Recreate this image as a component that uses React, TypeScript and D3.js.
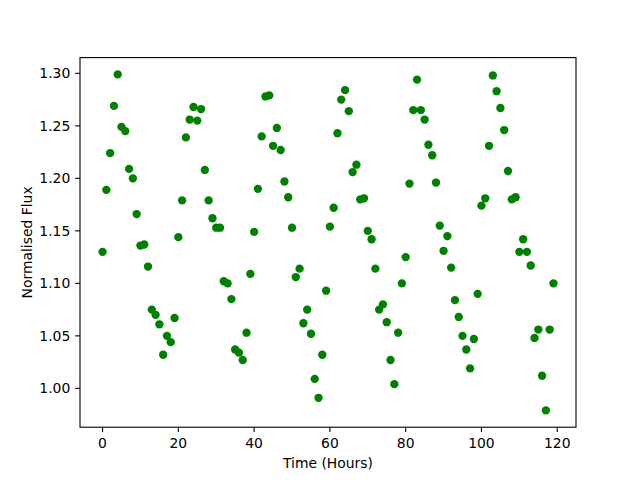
import React from "react";
import * as d3 from "d3";

const hours: number[] = d3.range(0, 120);
const flux: number[] = [
  1.130, 1.189, 1.224, 1.269, 1.299, 1.249, 1.245, 1.209, 1.200, 1.166,
  1.136, 1.137, 1.116, 1.075, 1.070, 1.061, 1.032, 1.050, 1.044, 1.067,
  1.144, 1.179, 1.239, 1.256, 1.268, 1.255, 1.266, 1.208, 1.179, 1.162,
  1.153, 1.153, 1.102, 1.100, 1.085, 1.037, 1.034, 1.027, 1.053, 1.109,
  1.149, 1.190, 1.240, 1.278, 1.279, 1.231, 1.248, 1.227, 1.197, 1.182,
  1.153, 1.106, 1.114, 1.062, 1.075, 1.052, 1.009, 0.991, 1.032, 1.093,
  1.154, 1.172, 1.243, 1.275, 1.284, 1.264, 1.206, 1.213, 1.180, 1.181,
  1.150, 1.142, 1.114, 1.075, 1.080, 1.063, 1.027, 1.004, 1.053, 1.100,
  1.125, 1.195, 1.265, 1.294, 1.265, 1.256, 1.232, 1.222, 1.196, 1.155,
  1.131, 1.145, 1.115, 1.084, 1.068, 1.050, 1.037, 1.019, 1.047, 1.090,
  1.174, 1.181, 1.231, 1.298, 1.283, 1.267, 1.246, 1.207, 1.180, 1.182,
  1.130, 1.142, 1.130, 1.117, 1.048, 1.056, 1.012, 0.979, 1.056, 1.100,
];
const xTicks: number[] = [0, 20, 40, 60, 80, 100, 120];
const yTicks: number[] = [1.0, 1.05, 1.1, 1.15, 1.2, 1.25, 1.3];

const W = 640, H = 480;
const L = 80, R = 576, T = 57.6, B = 427.2;
const FONT = "DejaVu Sans, sans-serif";
const FS = 13.9;
const TL = 4.86;

export default function App() {
  const xMin = d3.min(hours)!, xMax = d3.max(hours)!;
  const yMin = d3.min(flux)!, yMax = d3.max(flux)!;
  const xm = (xMax - xMin) * 0.05, ym = (yMax - yMin) * 0.05;
  const x = d3.scaleLinear().domain([xMin - xm, xMax + xm]).range([L, R]);
  const y = d3.scaleLinear().domain([yMin - ym, yMax + ym]).range([B, T]);

  return (
    <svg width={W} height={H} style={{ position: "absolute", left: 0, top: 0, background: "#fff" }}>
      <rect x={0} y={0} width={W} height={H} fill="#fff" />
      <g>
        {hours.map((h, i) => (
          <circle key={i} cx={x(h)} cy={y(flux[i])} r={4.17} fill="#008000" />
        ))}
      </g>
      <rect x={L} y={T} width={R - L} height={B - T} fill="none" stroke="#000" strokeWidth={1.11} />
      {xTicks.map((t) => (
        <g key={"x" + t}>
          <line x1={x(t)} x2={x(t)} y1={B} y2={B + TL} stroke="#000" strokeWidth={1.11} />
          <text x={x(t)} y={B + TL + 4.86 + 11} textAnchor="middle" fontFamily={FONT} fontSize={FS} fill="#000">
            {t}
          </text>
        </g>
      ))}
      {yTicks.map((t) => (
        <g key={"y" + t}>
          <line x1={L - TL} x2={L} y1={y(t)} y2={y(t)} stroke="#000" strokeWidth={1.11} />
          <text x={L - TL - 4.86} y={y(t)} dy="0.36em" textAnchor="end" fontFamily={FONT} fontSize={FS} fill="#000">
            {t.toFixed(2)}
          </text>
        </g>
      ))}
      <text x={(L + R) / 2} y={468} textAnchor="middle" fontFamily={FONT} fontSize={FS} fill="#000">
        Time (Hours)
      </text>
      <text
        transform={`translate(32, ${(T + B) / 2}) rotate(-90)`}
        textAnchor="middle"
        fontFamily={FONT}
        fontSize={FS}
        fill="#000"
      >
        Normalised Flux
      </text>
    </svg>
  );
}
